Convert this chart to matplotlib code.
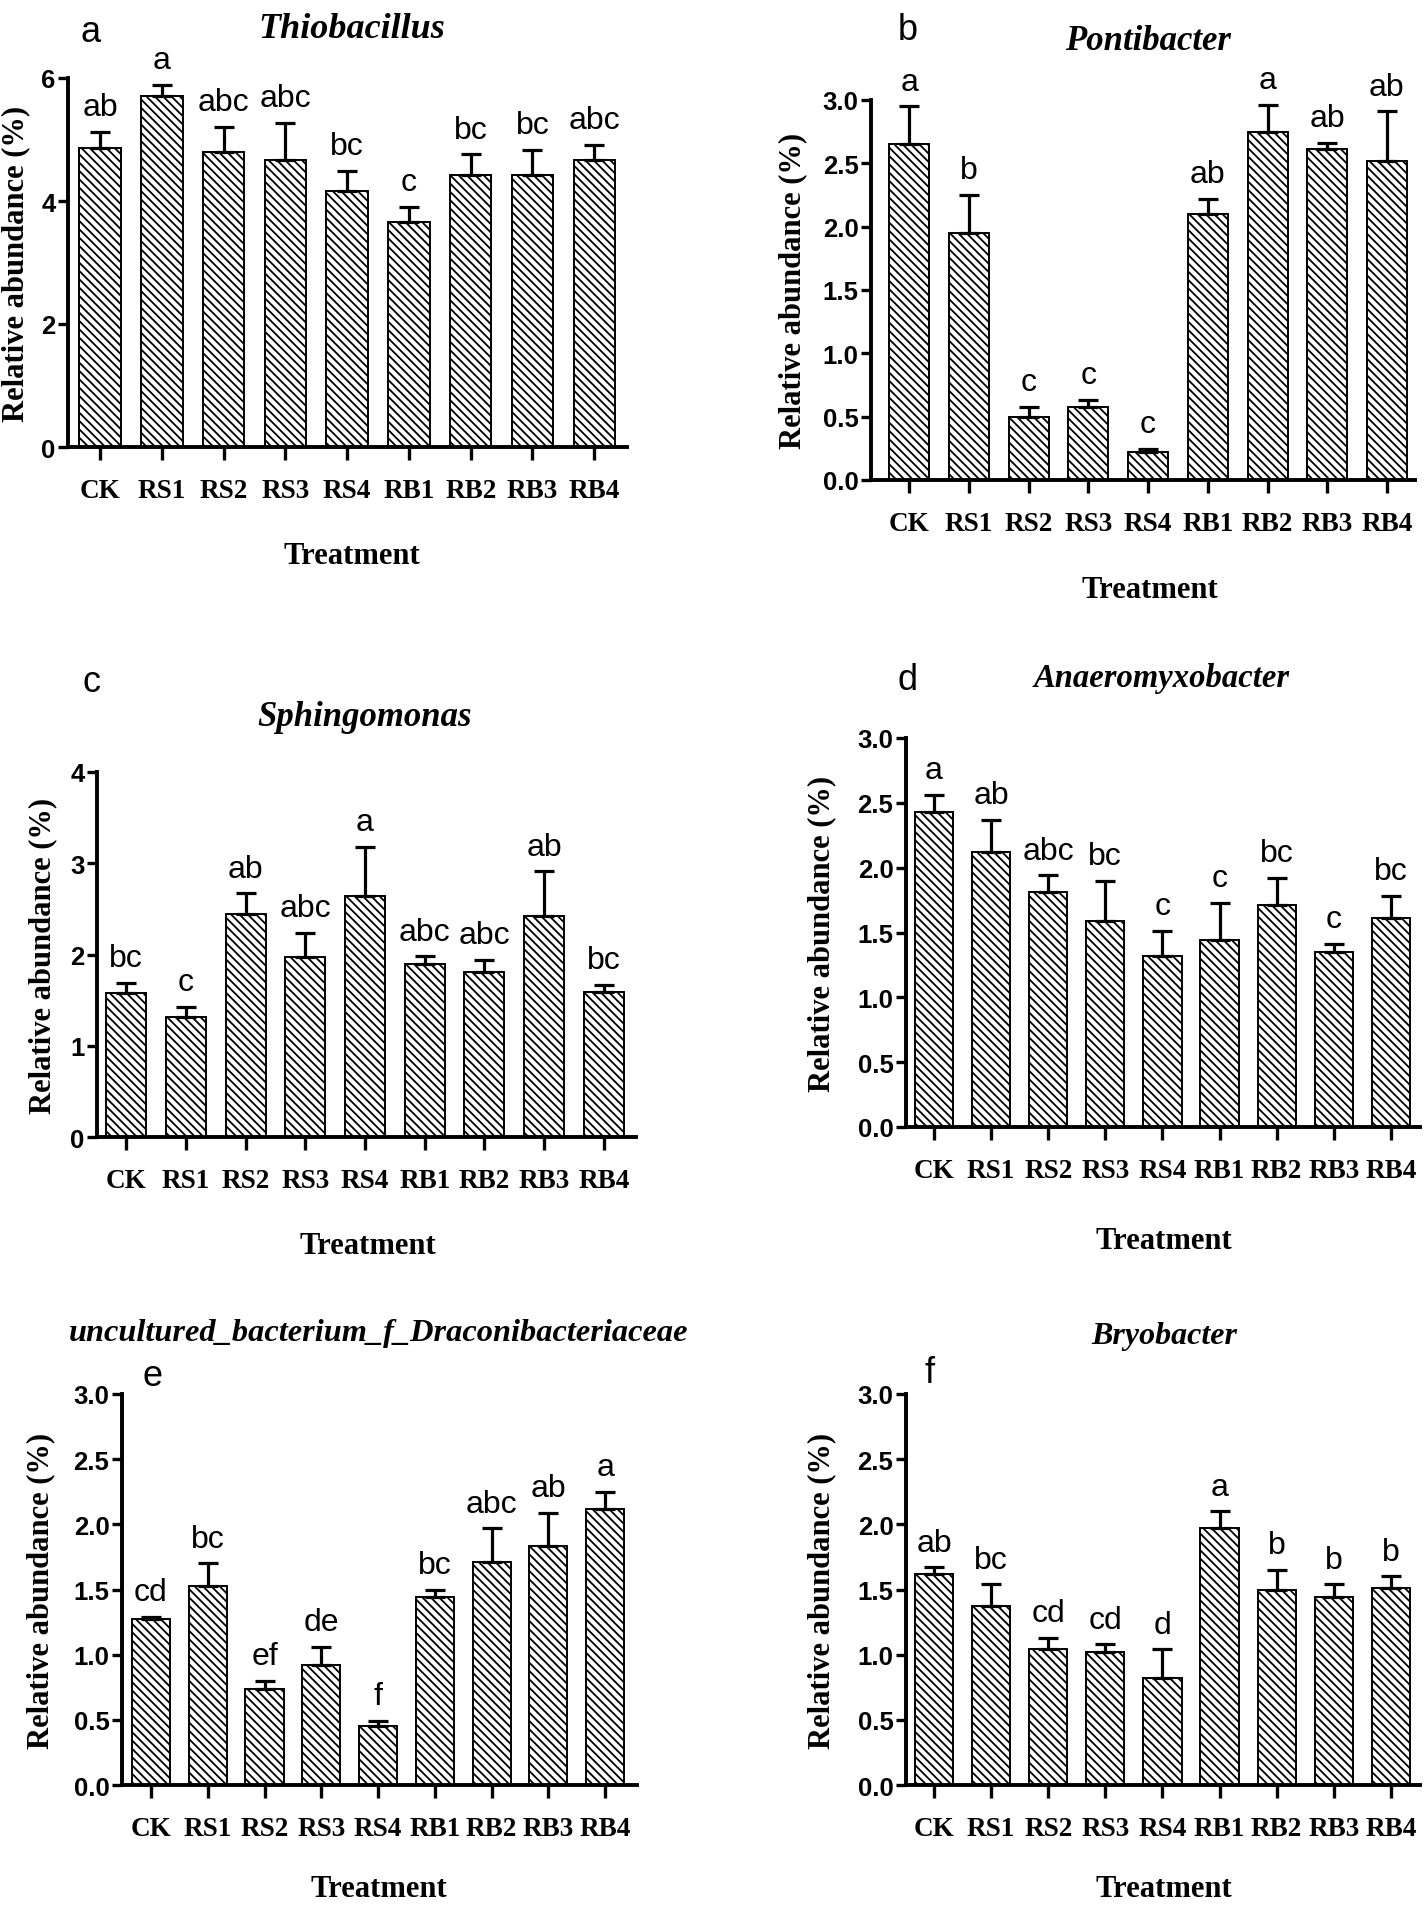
import numpy as np
import matplotlib
matplotlib.use("Agg")
import matplotlib.pyplot as plt

groups = ['CK', 'RS1', 'RS2', 'RS3', 'RS4', 'RB1', 'RB2', 'RB3', 'RB4']

# a - Thiobacillus
thio_mean = [4.86, 5.70, 4.79, 4.67, 4.17, 3.66, 4.43, 4.43, 4.67]
thio_sd = [0.27, 0.19, 0.42, 0.60, 0.32, 0.24, 0.33, 0.40, 0.24]
thio_sig = ['ab', 'a', 'abc', 'abc', 'bc', 'c', 'bc', 'bc', 'abc']

# b - Pontibacter
ponti_mean = [2.65, 1.95, 0.50, 0.58, 0.22, 2.10, 2.75, 2.61, 2.52]
ponti_sd = [0.30, 0.30, 0.08, 0.05, 0.025, 0.12, 0.21, 0.05, 0.39]
ponti_sig = ['a', 'b', 'c', 'c', 'c', 'ab', 'a', 'ab', 'ab']

# c - Sphingomonas
sphingo_mean = [1.58, 1.32, 2.44, 1.97, 2.64, 1.90, 1.81, 2.42, 1.59]
sphingo_sd = [0.11, 0.11, 0.23, 0.27, 0.54, 0.08, 0.13, 0.49, 0.08]
sphingo_sig = ['bc', 'c', 'ab', 'abc', 'a', 'abc', 'abc', 'ab', 'bc']

# d - Anaeromyxobacter
anaero_mean = [2.43, 2.12, 1.81, 1.59, 1.32, 1.44, 1.71, 1.35, 1.61]
anaero_sd = [0.13, 0.25, 0.13, 0.31, 0.19, 0.29, 0.21, 0.06, 0.17]
anaero_sig = ['a', 'ab', 'abc', 'bc', 'c', 'c', 'bc', 'c', 'bc']

# e - uncultured_bacterium_f_Draconibacteriaceae
drac_mean = [1.27, 1.53, 0.74, 0.92, 0.45, 1.44, 1.71, 1.83, 2.12]
drac_sd = [0.02, 0.17, 0.06, 0.14, 0.04, 0.06, 0.26, 0.26, 0.13]
drac_sig = ['cd', 'bc', 'ef', 'de', 'f', 'bc', 'abc', 'ab', 'a']

# f - Bryobacter
bryo_mean = [1.62, 1.37, 1.04, 1.02, 0.82, 1.97, 1.50, 1.44, 1.51]
bryo_sd = [0.05, 0.17, 0.09, 0.06, 0.22, 0.13, 0.15, 0.10, 0.09]
bryo_sig = ['ab', 'bc', 'cd', 'cd', 'd', 'a', 'b', 'b', 'b']

ticks_int6 = [0, 2, 4, 6]
ticks_int4 = [0, 1, 2, 3, 4]
ticks_half3 = [0.0, 0.5, 1.0, 1.5, 2.0, 2.5, 3.0]

W, H = 1424, 1908
SERIF = ['Liberation Serif', 'DejaVu Serif']
SANS = ['Liberation Sans', 'DejaVu Sans']

plt.rcParams['hatch.linewidth'] = 1.3

fig = plt.figure(figsize=(W / 100, H / 100), dpi=100)


def px(x, y):
    return x / W, 1 - y / H


def panel(box, xlim, means, sds, sig, yticks, fmt, title, tsize, letter, title_xy, letter_xy, treat_xy, ylab_x):
    left, right, top, bottom = box
    ax = fig.add_axes([left / W, 1 - bottom / H, (right - left) / W, (bottom - top) / H])
    x = np.arange(len(groups))
    ax.bar(x, means, width=0.67, color='white', edgecolor='black', linewidth=1.4,
           hatch='\\\\\\\\', zorder=2)
    ax.errorbar(x, means, yerr=[np.zeros(len(sds)), sds], fmt='none', ecolor='black',
                elinewidth=2.3, capsize=7.2, capthick=2.3, zorder=3, clip_on=False)
    for xi, m, s, lab in zip(x, means, sds, sig):
        ax.annotate(lab, (xi, m + s), xytext=(0, 7), textcoords='offset points',
                    ha='center', va='bottom', fontsize=23, family=SANS,
                    annotation_clip=False)
    ax.set_xlim(*xlim)
    ax.set_ylim(yticks[0], yticks[-1])
    ax.set_yticks(yticks)
    ax.set_yticklabels([fmt.format(t) for t in yticks], family=SANS, fontweight='bold', fontsize=18.5)
    ax.set_xticks(x)
    ax.set_xticklabels(groups, family=SERIF, fontweight='bold', fontsize=19.5)
    for s in ['top', 'right']:
        ax.spines[s].set_visible(False)
    for s in ['left', 'bottom']:
        ax.spines[s].set_linewidth(2.8)
    ax.tick_params(axis='y', length=7, width=2.4, pad=2)
    ax.tick_params(axis='x', length=9, width=2.4, pad=13)

    fig.text(*px(*title_xy), title, ha='center', va='center', family=SERIF,
             fontweight='bold', style='italic', fontsize=tsize)
    fig.text(*px(*letter_xy), letter, ha='center', va='center', family=SANS, fontsize=26)
    fig.text(*px(*treat_xy), 'Treatment', ha='center', va='center', family=SERIF,
             fontweight='bold', fontsize=22)
    fig.text(*px(ylab_x, (top + bottom) / 2), 'Relative abundance (%)', rotation=90,
             ha='center', va='center', family=SERIF, fontweight='bold', fontsize=22)
    return ax


panel((68, 627, 79, 448), (-0.52, 8.53), thio_mean, thio_sd, thio_sig, ticks_int6, '{:.0f}',
      'Thiobacillus', 26, 'a', (352, 30), (91, 32), (352, 557), 16)
panel((871, 1415, 101, 481), (-0.64, 8.47), ponti_mean, ponti_sd, ponti_sig, ticks_half3, '{:.1f}',
      'Pontibacter', 25, 'b', (1148, 42), (908, 30), (1150, 591), 793)
panel((97, 636, 773, 1138), (-0.49, 8.54), sphingo_mean, sphingo_sd, sphingo_sig, ticks_int4, '{:.0f}',
      'Sphingomonas', 25, 'c', (365, 718), (91, 683), (368, 1247), 43)
panel((906, 1420, 739, 1128), (-0.49, 8.51), anaero_mean, anaero_sd, anaero_sig, ticks_half3, '{:.1f}',
      'Anaeromyxobacter', 23.5, 'd', (1162, 679), (908, 681), (1164, 1242), 822)
panel((122, 637, 1395, 1786), (-0.51, 8.56), drac_mean, drac_sd, drac_sig, ticks_half3, '{:.1f}',
      'uncultured_bacterium_f_Draconibacteriaceae', 23.3, 'e', (379, 1333), (153, 1376), (379, 1890), 41)
panel((906, 1420, 1395, 1786), (-0.49, 8.51), bryo_mean, bryo_sd, bryo_sig, ticks_half3, '{:.1f}',
      'Bryobacter', 23, 'f', (1164, 1337), (930, 1374), (1164, 1890), 822)

fig.savefig('out.png', dpi=100)
